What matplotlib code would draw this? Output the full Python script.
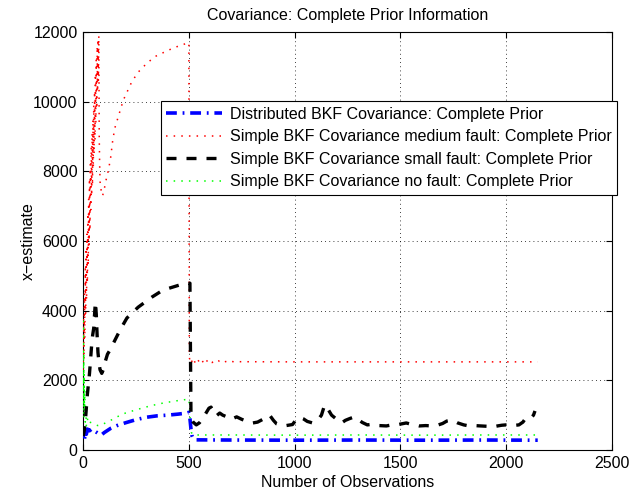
import matplotlib
matplotlib.use("Agg")
import matplotlib.pyplot as plt

# ---------------- data ----------------
# Simple BKF, medium fault (red dotted)
red_x = [0, 2, 4, 6, 8, 10, 12, 14, 16, 18, 20, 22, 24, 26, 28, 30, 32, 34, 36, 38,
         40, 42, 44, 46, 48, 50, 52, 54, 56, 58, 60, 62, 64, 66, 68, 70, 72, 74, 76, 78,
         80, 84, 88, 92, 96, 100, 110, 120, 130, 140, 150, 165, 190, 230, 260, 300,
         340, 371, 410, 442, 475, 500,
         502, 510, 520, 530, 540, 550, 560, 570, 580, 590, 600, 610, 620, 630, 640,
         650, 660, 670, 680, 690, 700, 715, 730, 1000, 1500, 2000, 2150]
red_y = [2300, 3800, 2600, 4500, 3200, 5200, 3900, 5800, 4300, 6200, 4800, 6800, 5300,
         7200, 5900, 7800, 6300, 8200, 6900, 8700, 7300, 9100, 7600, 9500, 8100, 9900,
         8500, 10300, 8900, 10800, 9400, 11200, 9800, 11600, 10300, 11800, 10600, 11900,
         9000, 8200, 7700, 7500, 7350, 7300, 7400, 7500, 7800, 8050, 8400, 8900, 9250,
         9550, 10050, 10575, 10850, 11100, 11300, 11390, 11500, 11580, 11650, 11700,
         2650, 2480, 2640, 2500, 2610, 2520, 2600, 2490, 2590, 2530, 2580, 2510, 2570,
         2540, 2560, 2520, 2555, 2530, 2550, 2525, 2545, 2530, 2535, 2530, 2530, 2530, 2530]

# Simple BKF, small fault (black dashed)
blk_x = [0, 5, 10, 15, 20, 25, 30, 35, 40, 45, 50, 55, 58, 62, 66, 70, 75, 80, 88, 95,
         105, 115, 127, 150, 175, 207, 260, 325, 377, 457, 505,
         510, 520, 535, 550, 565, 580, 595, 605, 615, 630, 646, 660, 680, 700, 726, 750,
         775, 802, 825, 850, 865, 882, 900, 915, 930, 960, 990, 1005, 1024, 1040, 1060,
         1085, 1100, 1115, 1127, 1142, 1160, 1175, 1195, 1222, 1240, 1260, 1283, 1300,
         1320, 1344, 1370, 1400, 1434, 1460, 1490, 1528, 1550, 1570, 1590, 1620, 1651,
         1680, 1700, 1720, 1745, 1770, 1800, 1825, 1850, 1880, 1910, 1934, 1960, 1980,
         2000, 2030, 2061, 2080, 2094, 2105, 2118, 2130, 2137]
blk_y = [400, 550, 800, 1200, 1600, 1900, 2200, 2600, 3000, 3300, 3500, 4000, 4250,
         3900, 3300, 2800, 2500, 2300, 2200, 2300, 2550, 2750, 2870, 3150, 3450, 3790,
         4100, 4390, 4590, 4740, 4790,
         900, 800, 720, 780, 900, 1050, 1200, 1230, 1080, 980, 1060, 1000, 950, 880, 950,
         880, 820, 775, 800, 880, 950, 1000, 850, 750, 720, 700, 730, 850, 940, 900, 820,
         775, 850, 900, 1000, 1290, 1150, 1000, 900, 775, 850, 900, 950, 880, 790, 720,
         740, 700, 690, 720, 730, 775, 740, 720, 690, 700, 690, 720, 760, 830, 860, 780,
         720, 690, 700, 690, 680, 660, 690, 710, 720, 700, 720, 800, 920, 900, 920, 1000,
         1120]

# Distributed BKF (blue dash-dot)
blu_x = [0, 3, 6, 10, 15, 20, 30, 40, 50, 60, 70, 80, 90, 100, 130, 160, 200, 250, 300,
         350, 400, 450, 490, 500, 505, 510, 515, 520, 530, 700, 1000, 1300, 1600, 1900, 2150]
blu_y = [350, 550, 300, 500, 450, 600, 550, 600, 580, 520, 480, 430, 450, 500, 620, 700,
         780, 870, 940, 980, 1000, 1030, 1060, 1080, 900, 600, 400, 330, 290, 285, 280,
         285, 280, 285, 280]

# Simple BKF, no fault (green dotted)
grn_x = [0, 1, 2, 3, 4, 5, 6, 8, 10, 12, 15, 20, 25, 30, 40, 50, 60, 70, 80, 100, 130,
         160, 200, 260, 320, 380, 440, 500, 503, 507, 512, 520, 700, 1000, 1300, 1600,
         1900, 2150]
grn_y = [1500, 3700, 1200, 2800, 900, 2200, 1000, 1700, 800, 1300, 700, 900, 750, 800,
         780, 750, 720, 700, 700, 760, 850, 950, 1060, 1170, 1270, 1350, 1410, 1460, 1200,
         800, 500, 430, 430, 425, 430, 425, 430, 430]

labels = ["Distributed BKF Covariance: Complete Prior",
          "Simple BKF Covariance medium fault: Complete Prior",
          "Simple BKF Covariance small fault: Complete Prior",
          "Simple BKF Covariance no fault: Complete Prior"]
x_ticks = [0, 500, 1000, 1500, 2000, 2500]
y_ticks = [0, 2000, 4000, 6000, 8000, 10000, 12000]

# ---------------- drawing ----------------
plt.rcParams['font.family'] = ['Liberation Sans', 'DejaVu Sans']
FS = 11.5
fig = plt.figure(figsize=(6.3, 4.95), dpi=100)
ax = fig.add_axes([0.132, 0.091, 0.839, 0.844])

l_blu, = ax.plot(blu_x, blu_y, color='#0000ff', lw=2.6, linestyle=(0, (3, 1.6, 0.5, 1.6)),
                 label=labels[0], zorder=4)
l_red, = ax.plot(red_x, red_y, color='#ff0000', lw=1.1, linestyle=(0, (1, 4)),
                 label=labels[1], zorder=3)
l_blk, = ax.plot(blk_x, blk_y, color='black', lw=2.4, linestyle=(0, (3, 3)),
                 label=labels[2], zorder=5)
l_grn, = ax.plot(grn_x, grn_y, color='#00ff00', lw=1.1, linestyle=(0, (1, 4)),
                 label=labels[3], zorder=3)

ax.set_xlim(0, 2500)
ax.set_ylim(0, 12000)
ax.set_xticks(x_ticks)
ax.set_yticks(y_ticks)
ax.tick_params(direction='in', top=True, right=True, labelsize=FS, length=4, pad=4)
ax.grid(True, color='black', linestyle=(0, (1, 4)), linewidth=0.6)
for s in ax.spines.values():
    s.set_linewidth(0.8)

ax.set_title("Covariance: Complete Prior Information", fontsize=FS, pad=9)
ax.set_xlabel("Number of Observations", fontsize=FS, labelpad=3)
ax.set_ylabel("x\u2212estimate", fontsize=FS, labelpad=-2)

leg = ax.legend(handles=[l_blu, l_red, l_blk, l_grn], loc='upper left',
                bbox_to_anchor=(0.147, 0.835), borderaxespad=0, fontsize=FS,
                frameon=True, fancybox=False, edgecolor='black', framealpha=1,
                handlelength=3.5, handletextpad=0.45, labelspacing=0.47,
                borderpad=0.35)
leg.get_frame().set_linewidth(0.8)

fig.savefig("out.png", dpi=100)
